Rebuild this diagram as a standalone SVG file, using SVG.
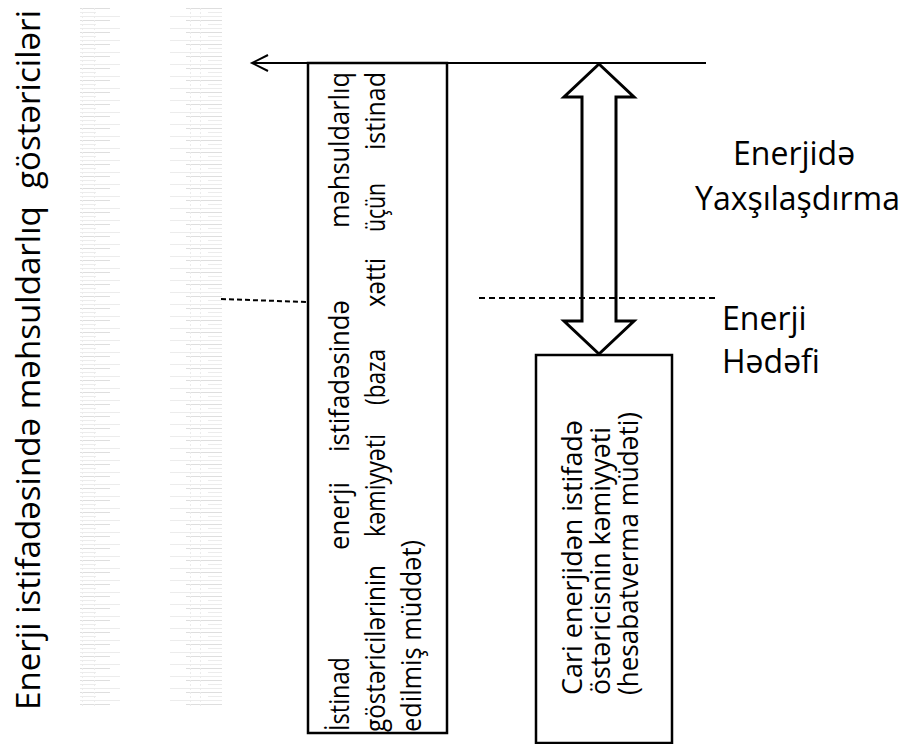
<svg xmlns="http://www.w3.org/2000/svg" width="899" height="744" viewBox="0 0 899 744">
<style>
  .t { font-family: "Open Sans", "Noto Sans", "DejaVu Sans", sans-serif; fill: #000; }
  .big { font-size: 32px; }
  .axis { font-size: 32px; }
  .box { font-size: 28px; }
  .rbox { font-size: 28px; }
  .ln { stroke: #000; stroke-width: 2; fill: none; }
  .bx { stroke: #000; stroke-width: 2.5; fill: none; }
  .dash { stroke: #000; stroke-width: 2; fill: none; stroke-dasharray: 6 4; }
  .ghost { stroke: #dedede; stroke-width: 1; }
  .ghost2 { stroke: #ececec; stroke-width: 1; }
</style>
<defs>
  <pattern id="hatchL" x="0" y="8" width="80" height="12" patternUnits="userSpaceOnUse">
    <line x1="0" y1="0.5" x2="30" y2="0.5" class="ghost"/>
    <line x1="0" y1="4.5" x2="16" y2="4.5" class="ghost2"/>
    <line x1="0" y1="8.5" x2="52" y2="8.5" class="ghost2"/>
  </pattern>
  <pattern id="hatchR" x="0" y="8" width="80" height="12" patternUnits="userSpaceOnUse">
    <line x1="26" y1="0.5" x2="62" y2="0.5" class="ghost"/>
    <line x1="48" y1="4.5" x2="62" y2="4.5" class="ghost2"/>
    <line x1="10" y1="8.5" x2="62" y2="8.5" class="ghost2"/>
  </pattern>
  <pattern id="vdots" x="0" y="8" width="2" height="4" patternUnits="userSpaceOnUse">
    <rect x="0" y="0" width="1" height="2" fill="#ececec"/>
  </pattern>
</defs>
<rect width="899" height="744" fill="#fff"/>

<g id="ghost-scale">
  <rect x="54" y="8" width="66" height="698" fill="url(#hatchL)"/>
  <rect x="162" y="8" width="64" height="698" fill="url(#hatchR)"/>
  <rect x="82" y="8" width="2" height="698" fill="url(#vdots)"/>
  <rect x="93" y="8" width="2" height="698" fill="url(#vdots)"/>
  <rect x="189" y="8" width="2" height="698" fill="url(#vdots)"/>
  <rect x="200" y="8" width="2" height="698" fill="url(#vdots)"/>
</g>

<g id="axis-label">
  <text class="t axis" transform="translate(40,710) rotate(-90)" textLength="700" lengthAdjust="spacingAndGlyphs" style="white-space:pre">Enerji istifadəsində məhsuldarlıq  göstəriciləri</text>
</g>

<g id="baseline-box">
  <rect x="308" y="63" width="139" height="670" class="bx"/>
  <text class="t box" transform="translate(349,731) rotate(-90)" textLength="74" lengthAdjust="spacingAndGlyphs">İstinad</text>
  <text class="t box" transform="translate(349,550) rotate(-90)" textLength="68" lengthAdjust="spacingAndGlyphs">enerji</text>
  <text class="t box" transform="translate(349,452) rotate(-90)" textLength="152" lengthAdjust="spacingAndGlyphs">istifadəsində</text>
  <text class="t box" transform="translate(349,228) rotate(-90)" textLength="156" lengthAdjust="spacingAndGlyphs">məhsuldarlıq</text>
  <text class="t box" transform="translate(385,732) rotate(-90)" textLength="167" lengthAdjust="spacingAndGlyphs">göstəricilərinin</text>
  <text class="t box" transform="translate(385,537) rotate(-90)" textLength="103" lengthAdjust="spacingAndGlyphs">kəmiyyəti</text>
  <text class="t box" transform="translate(385,405) rotate(-90)" textLength="56" lengthAdjust="spacingAndGlyphs">(baza</text>
  <text class="t box" transform="translate(385,307) rotate(-90)" textLength="49" lengthAdjust="spacingAndGlyphs">xətti</text>
  <text class="t box" transform="translate(385,232) rotate(-90)" textLength="49" lengthAdjust="spacingAndGlyphs">üçün</text>
  <text class="t box" transform="translate(385,150) rotate(-90)" textLength="78" lengthAdjust="spacingAndGlyphs">istinad</text>
  <text class="t box" transform="translate(421,732) rotate(-90)" textLength="192" lengthAdjust="spacingAndGlyphs">edilmiş müddət)</text>
</g>

<g id="current-box">
  <rect x="536" y="355" width="136" height="388" class="bx"/>
  <text class="t rbox" transform="translate(582,695) rotate(-90)" textLength="275" lengthAdjust="spacingAndGlyphs">Cari enerjidən istifadə</text>
  <text class="t rbox" transform="translate(610,695) rotate(-90)" textLength="268" lengthAdjust="spacingAndGlyphs">östəricisnin kəmiyyəti</text>
  <text class="t rbox" transform="translate(638,695) rotate(-90)" textLength="283" lengthAdjust="spacingAndGlyphs">(hesabatverma müdəti)</text>
</g>

<g id="improvement-label">
  <text class="t big" x="733" y="165">Enerjidə</text>
  <text class="t big" x="695" y="210">Yaxşılaşdırma</text>
</g>

<g id="target-label">
  <text class="t big" x="722" y="330">Enerji</text>
  <text class="t big" x="722" y="373">Hədəfi</text>
</g>

<g id="connectors">
  <line x1="252" y1="63" x2="706" y2="63" class="ln"/>
  <polyline points="268,55 252,63 268,71" class="ln"/>
  <polygon points="599,64 634,97 616,97 616,321 634,321 599,354 564,321 582,321 582,97 564,97" fill="#fff" stroke="#000" stroke-width="3" stroke-linejoin="miter"/>
  <line x1="479" y1="298" x2="718" y2="298" class="dash"/>
  <line x1="221" y1="299" x2="306" y2="302" stroke="#000" stroke-width="2" stroke-dasharray="5 3"/>
</g>
</svg>
